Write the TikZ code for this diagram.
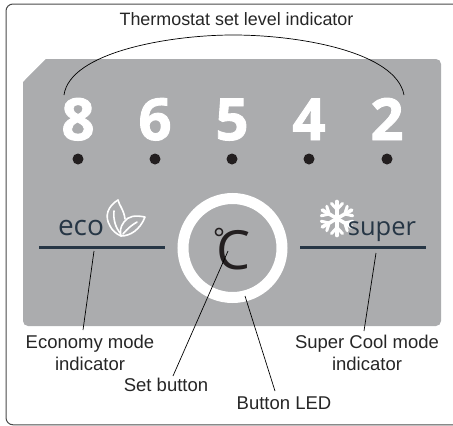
\documentclass[tikz,border=0pt]{standalone}
\usepackage{fontspec}
\setmainfont{Liberation Sans}
\newfontfamily\opensans{Open Sans}
\newfontfamily\heavydigits[BoldFeatures={FakeBold=1.6}]{Open Sans}
\definecolor{panelgray}{HTML}{ABACAE}
\definecolor{navy}{HTML}{263645}
\definecolor{inkblack}{HTML}{231F20}
\definecolor{framegray}{HTML}{4A4A4A}
\tikzset{
  lbl/.style={anchor=base,inner sep=0pt,align=center,text=black!85,font=\fontsize{18.5}{22}\selectfont},
  digit/.style={anchor=base,inner sep=0pt,text=white,font=\heavydigits\bfseries\fontsize{58}{58}\selectfont},
  brand/.style={anchor=base,inner sep=0pt,text=navy,font=\opensans\fontsize{28}{28}\selectfont},
  leddot/.style={circle,fill=inkblack,minimum size=11pt,inner sep=0pt},
  pointer/.style={draw=black,line width=0.7pt},
  modebar/.style={draw=navy,line width=3pt},
  whiteline/.style={draw=white,line width=1.6pt,line cap=round,line join=round},
  flake/.style={draw=white,line width=3.6pt,line cap=round}
}
\begin{document}
\begin{tikzpicture}[x=1pt,y=-1pt]
\useasboundingbox (0,0) rectangle (453,426);
% frame
\draw[framegray,line width=1pt,rounded corners=7pt] (460,4) -- (6,4) -- (6,424.8) -- (460,424.8);
% panel
\fill[panelgray,rounded corners=5pt] (46,59) -- (441,59) -- (441,326) -- (23,326) -- (23,82) [sharp corners] -- cycle;
\fill[panelgray] (46,59) -- (60,59) -- (60,75) -- (23,95) -- (23,82) -- cycle;
% digits
\node[digit] (d8) at (78,140) {8};
\node[digit] (d6) at (155,140) {6};
\node[digit] (d5) at (232,140) {5};
\node[digit] (d4) at (309,140) {4};
\node[digit] (d2) at (387,140) {2};
% LEDs
\node[leddot] (l8) at (78,159) {};
\node[leddot] (l6) at (155,159) {};
\node[leddot] (l5) at (232,159) {};
\node[leddot] (l4) at (309,159) {};
\node[leddot] (l2) at (387,159) {};
% top label and arc
\node[lbl,font=\fontsize{17.9}{22}\selectfont] (toplabel) at (236.5,25.6) {Thermostat set level indicator};
\coordinate (arcL) at (64,95);
\coordinate (arcM) at (233,35);
\coordinate (arcR) at (404,95);
\draw[pointer] (arcL) .. controls (70,52) and (170,35) .. (arcM) .. controls (300,35) and (396,52) .. (arcR);
% eco
\node[brand] (eco) at (81,235) {eco};
\draw[whiteline] (118,200) .. controls (108,206) and (104,216) .. (110,226) .. controls (112,230) and (116,234) .. (121,236);
\draw[whiteline] (118,200) .. controls (119,205) and (124,210) .. (125,219);
\draw[whiteline] (114,211) .. controls (113,220) and (116,228) .. (120,233);
\draw[whiteline] (145,217) .. controls (135,215) and (128,216) .. (124,222) .. controls (120,227) and (120,232) .. (121,236) .. controls (130,236) and (140,230) .. (145,217);
\draw[whiteline] (123,234) .. controls (128,228) and (132,225) .. (137,222);
\draw[modebar] (39,247) -- (165,247);
% super
\foreach \a in {0,60,...,300}{
  \begin{scope}[shift={(337,218.5)},rotate=\a]
    \draw[flake] (0,0) -- (0,-17);
    \draw[flake,line width=3pt] (0,-9) -- (-5.5,-15);
    \draw[flake,line width=3pt] (0,-9) -- (5.5,-15);
  \end{scope}
}
\node[brand,font=\opensans\fontsize{25.5}{26}\selectfont] (super) at (382,235) {super};
\draw[modebar] (300,247) -- (426,247);
% button
\node[circle,draw=white,line width=11pt,minimum size=99pt,inner sep=0pt] (ring) at (232.5,248) {};
\node[anchor=base west,inner sep=0pt,text=inkblack,font=\opensans\fontsize{54}{54}\selectfont] (cee) at (213,269) {\raisebox{21pt}{\fontsize{28}{28}\selectfont °}\kern-9pt C};
% labels
\node[lbl] (ecolabel) at (90,370) {Economy mode\\indicator};
\node[lbl] (superlabel) at (367,370) {Super Cool mode\\indicator};
\node[lbl] (setlabel) at (166,391) {Set button};
\node[lbl] (ledlabel) at (284,409) {Button LED};
% pointers
\coordinate (ecoA) at (94,251);
\coordinate (ecoB) at (83,330);
\coordinate (supA) at (376,253);
\coordinate (supB) at (364,331);
\coordinate (setA) at (228,251);
\coordinate (setB) at (173,376);
\coordinate (ledA) at (245,296);
\coordinate (ledB) at (275,391);
\draw[pointer] (ecoA) -- (ecoB);
\draw[pointer] (supA) -- (supB);
\draw[pointer] (setA) -- (setB);
\draw[pointer] (ledA) -- (ledB);
\end{tikzpicture}
\end{document}
